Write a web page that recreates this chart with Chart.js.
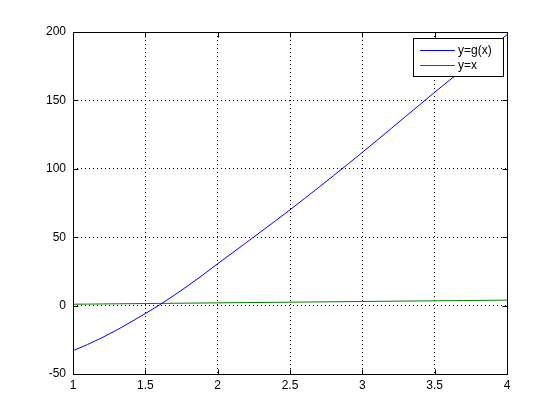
<!DOCTYPE html>
<html>
<head>
<meta charset="utf-8">
<script src="https://cdn.jsdelivr.net/npm/chart.js@4"></script>
<style>
html,body{margin:0;padding:0;background:#fff;}
#wrap{width:560px;height:420px;}
</style>
</head>
<body>
<div id="wrap"><canvas id="c" width="560" height="420"></canvas></div>
<script>
const xValues = [1.0,1.1,1.2,1.3,1.4,1.5,1.6,1.7,1.8,1.9,2.0,2.1,2.2,2.3,2.4,2.5,2.6,2.7,2.8,2.9,3.0,3.1,3.2,3.3,3.4,3.5,3.6,3.7,3.8,3.9,4.0];
const gValues = [-33,-28.5,-23.5,-18,-12,-5.8,0.6,7.6,14.9,22.6,30.6,38.4,46.2,54.1,62,70,78.2,86.5,94.9,103.4,112,120.7,129.5,138.3,147.1,156,164.5,173,181.4,189.7,198];
const idValues = [1.0,1.1,1.2,1.3,1.4,1.5,1.6,1.7,1.8,1.9,2.0,2.1,2.2,2.3,2.4,2.5,2.6,2.7,2.8,2.9,3.0,3.1,3.2,3.3,3.4,3.5,3.6,3.7,3.8,3.9,4.0];
const seriesLabels = ["y=g(x)", "y=x"];
const xTicks = [1, 1.5, 2, 2.5, 3, 3.5, 4];
const yTicks = [-50, 0, 50, 100, 150, 200];

const FONT = "Liberation Sans, Arial, Helvetica, sans-serif";

const toPts = (xs, ys) => xs.map((x, i) => ({x: x, y: ys[i]}));

const framePlugin = {
  id: 'frame',
  beforeDraw(chart) {
    const ctx = chart.ctx;
    ctx.save();
    ctx.fillStyle = '#fff';
    ctx.fillRect(0, 0, chart.width, chart.height);
    ctx.restore();
  },
  afterDatasetsDraw(chart) {
    const ctx = chart.ctx;
    const a = chart.chartArea;
    const xs = chart.scales.x, ys = chart.scales.y;
    ctx.save();
    ctx.strokeStyle = '#000';
    ctx.lineWidth = 1;
    ctx.beginPath();
    const L = Math.round(a.left) + 0.5, R = Math.round(a.right) + 0.5;
    const T = Math.round(a.top) + 0.5, B = Math.round(a.bottom) + 0.5;
    ctx.rect(L, T, R - L, B - T);
    const tl = 5;
    xTicks.forEach(v => {
      const px = Math.round(xs.getPixelForValue(v)) + 0.5;
      ctx.moveTo(px, B); ctx.lineTo(px, B - tl);
      ctx.moveTo(px, T); ctx.lineTo(px, T + tl);
    });
    yTicks.forEach(v => {
      const py = Math.round(ys.getPixelForValue(v)) + 0.5;
      ctx.moveTo(L, py); ctx.lineTo(L + tl, py);
      ctx.moveTo(R, py); ctx.lineTo(R - tl, py);
    });
    ctx.stroke();

    // legend box
    const bx = 413.5, by = 38.5, bw = 90, bh = 38;
    ctx.fillStyle = '#fff';
    ctx.fillRect(bx, by, bw, bh);
    ctx.strokeRect(bx, by, bw, bh);
    ctx.font = '12px ' + FONT;
    ctx.textBaseline = 'middle';
    ctx.textAlign = 'left';
    chart.data.datasets.forEach((ds, i) => {
      const y = Math.round(by + 11 + i * 15.5) + 0.5;
      ctx.strokeStyle = ds.borderColor;
      ctx.beginPath();
      ctx.moveTo(420, y); ctx.lineTo(455, y);
      ctx.stroke();
      ctx.fillStyle = '#000';
      ctx.fillText(ds.label, 458, y);
    });
    ctx.restore();
  }
};

new Chart(document.getElementById('c'), {
  type: 'line',
  data: {
    datasets: [
      {label: seriesLabels[0], data: toPts(xValues, gValues), borderColor: '#0000ff', borderWidth: 1, pointRadius: 0, tension: 0},
      {label: seriesLabels[1], data: toPts(xValues, idValues), borderColor: '#008000', borderWidth: 1, pointRadius: 0, tension: 0}
    ]
  },
  options: {
    responsive: false,
    animation: false,
    events: [],
    layout: {padding: {top: 32, right: 53, left: 0, bottom: 0}},
    plugins: {legend: {display: false}, tooltip: {enabled: false}},
    scales: {
      x: {
        type: 'linear', min: 1, max: 4,
        afterBuildTicks: s => { s.ticks = xTicks.map(v => ({value: v})); },
        afterFit: s => { s.height = 46; },
        ticks: {color: '#000', font: {family: FONT, size: 12}, padding: 4, maxRotation: 0,
          callback: v => String(v)},
        grid: {color: '#000', lineWidth: 1, drawTicks: false},
        border: {display: false, dash: [1, 3]}
      },
      y: {
        type: 'linear', min: -50, max: 200,
        afterBuildTicks: s => { s.ticks = yTicks.map(v => ({value: v})); },
        afterFit: s => { s.width = 73; },
        ticks: {color: '#000', font: {family: FONT, size: 12}, padding: 7,
          callback: v => String(v)},
        grid: {color: '#000', lineWidth: 1, drawTicks: false},
        border: {display: false, dash: [1, 3]}
      }
    }
  },
  plugins: [framePlugin]
});
</script>
</body>
</html>
